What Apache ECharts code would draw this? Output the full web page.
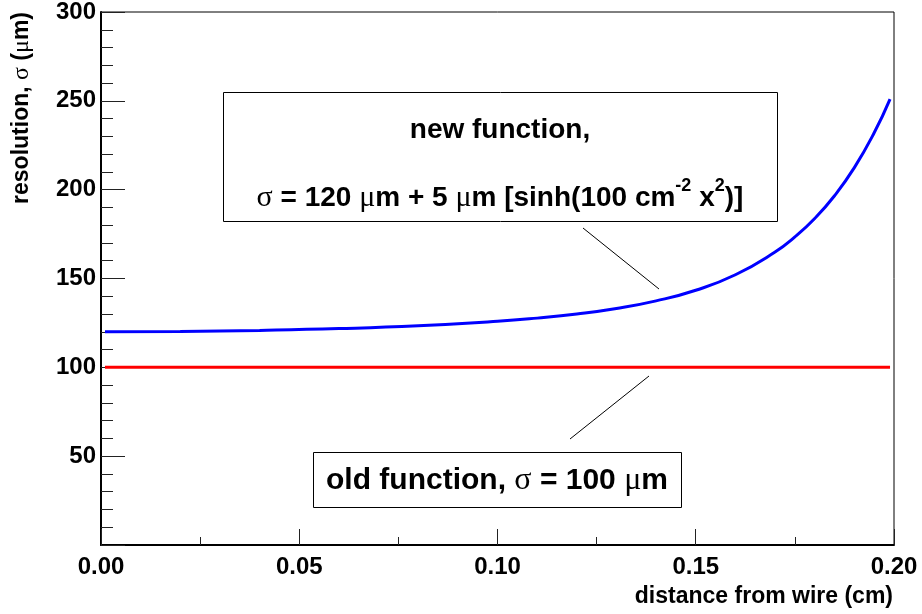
<!DOCTYPE html>
<html>
<head>
<meta charset="utf-8">
<script src="https://cdn.jsdelivr.net/npm/echarts@6/dist/echarts.min.js"></script>
<style>
html,body{margin:0;padding:0;background:#fff;}
#chart{width:922px;height:614px;}
</style>
</head>
<body>
<div id="chart"></div>
<script>
// distance from wire (cm) and resolution (um)
const newX = [0.001, 0.02, 0.04, 0.06, 0.08, 0.10, 0.11, 0.12, 0.13, 0.14, 0.15, 0.16, 0.17, 0.175, 0.18, 0.185, 0.19, 0.195, 0.199];
const newY = [120.0, 120.2, 120.8, 121.8, 123.4, 125.9, 127.7, 130.0, 133.1, 137.4, 143.4, 152.1, 164.9, 173.4, 183.8, 196.6, 212.4, 232.0, 251.0];
const oldX = [0.001, 0.199];
const oldY = [100, 100];
const xTicks = [0, 0.05, 0.10, 0.15, 0.20];
const yTicks = [0, 50, 100, 150, 200, 250, 300];

const xTitle = 'distance from wire (cm)';
const yTitle = 'resolution, {g|σ} ({g|μ}m)';

const F = '"Liberation Sans", Arial, Helvetica, sans-serif';
const S = '"Liberation Serif", "DejaVu Serif", serif';

const chart = echarts.init(document.getElementById('chart'), null, {renderer: 'canvas'});

const option = {
  animation: false,
  backgroundColor: '#fff',
  grid: {left: 101, right: 28, top: 12, bottom: 69, show: true, borderColor: '#000', borderWidth: 1, backgroundColor: 'transparent'},
  xAxis: {
    type: 'value', min: xTicks[0], max: xTicks[xTicks.length - 1], interval: xTicks[1] - xTicks[0],
    axisLine: {show: true, lineStyle: {color: '#000', width: 2}},
    axisTick: {show: true, inside: true, length: 16, lineStyle: {color: '#222', width: 1}},
    minorTick: {show: true, splitNumber: 2, length: 8, lineStyle: {color: '#222', width: 1}},
    splitLine: {show: false},
    axisLabel: {margin: 10, color: '#000', fontFamily: F, fontWeight: 'bold', fontSize: 24, formatter: v => v.toFixed(2)}
  },
  yAxis: {
    type: 'value', min: yTicks[0], max: yTicks[yTicks.length - 1], interval: yTicks[1] - yTicks[0],
    axisLine: {show: true, lineStyle: {color: '#000', width: 2}},
    axisTick: {show: true, inside: true, length: 24, lineStyle: {color: '#222', width: 1}},
    minorTick: {show: true, splitNumber: 5, length: 12, lineStyle: {color: '#222', width: 1}},
    splitLine: {show: false},
    axisLabel: {margin: 5, color: '#000', fontFamily: F, fontWeight: 'bold', fontSize: 24, formatter: v => v === 0 ? '' : String(v)}
  },
  series: [
    {
      type: 'line', name: 'old', data: oldX.map((x, i) => [x, oldY[i]]),
      showSymbol: false, lineStyle: {color: '#ff0000', width: 3}, z: 3
    },
    {
      type: 'line', name: 'new', data: newX.map((x, i) => [x, newY[i]]),
      smooth: true, showSymbol: false, lineStyle: {color: '#0000ff', width: 3}, z: 4
    }
  ],
  graphic: [
    {type: 'text', x: 22, y: 12, rotation: Math.PI / 2, z: 10,
     style: {text: yTitle, align: 'right', verticalAlign: 'middle', fill: '#000',
             font: 'bold 23px ' + F, rich: {g: {fontFamily: S, fontWeight: 'normal', fontSize: 24}}}},
    {type: 'text', x: 893, y: 597, z: 10,
     style: {text: xTitle, align: 'right', verticalAlign: 'middle', fill: '#000', font: 'bold 23px ' + F}},
    {type: 'rect', shape: {x: 223.5, y: 92.5, width: 554, height: 129}, z: 8,
     style: {fill: '#fff', stroke: '#000', lineWidth: 1}},
    {type: 'text', x: 500, y: 130, z: 10,
     style: {text: 'new function,', align: 'center', verticalAlign: 'middle', fill: '#000', font: 'bold 28px ' + F}},
    {type: 'text', x: 500, y: 198, z: 10,
     style: {text: '{g|σ} = 120 {g|μ}m + 5 {g|μ}m [sinh(100 cm{sup|-2} x{sup|2})]', align: 'center', verticalAlign: 'middle', fill: '#000',
             font: 'bold 28px ' + F, lineHeight: 42,
             rich: {g: {fontFamily: S, fontWeight: 'normal', fontSize: 30, lineHeight: 42}, sup: {fontFamily: F, fontWeight: 'bold', fontSize: 18, lineHeight: 24, verticalAlign: 'top'}}}},
    {type: 'rect', shape: {x: 313.5, y: 452.5, width: 368, height: 55}, z: 8,
     style: {fill: '#fff', stroke: '#000', lineWidth: 1}},
    {type: 'text', x: 497, y: 481, z: 10,
     style: {text: 'old function, {g|σ} = 100 {g|μ}m', align: 'center', verticalAlign: 'middle', fill: '#000',
             font: 'bold 30px ' + F, rich: {g: {fontFamily: S, fontWeight: 'normal', fontSize: 32}}}},
    {type: 'line', shape: {x1: 583, y1: 228, x2: 659, y2: 289}, z: 9, style: {stroke: '#000', lineWidth: 1}},
    {type: 'line', shape: {x1: 649, y1: 376, x2: 570, y2: 439}, z: 9, style: {stroke: '#000', lineWidth: 1}}
  ]
};
chart.setOption(option);
</script>
</body>
</html>
